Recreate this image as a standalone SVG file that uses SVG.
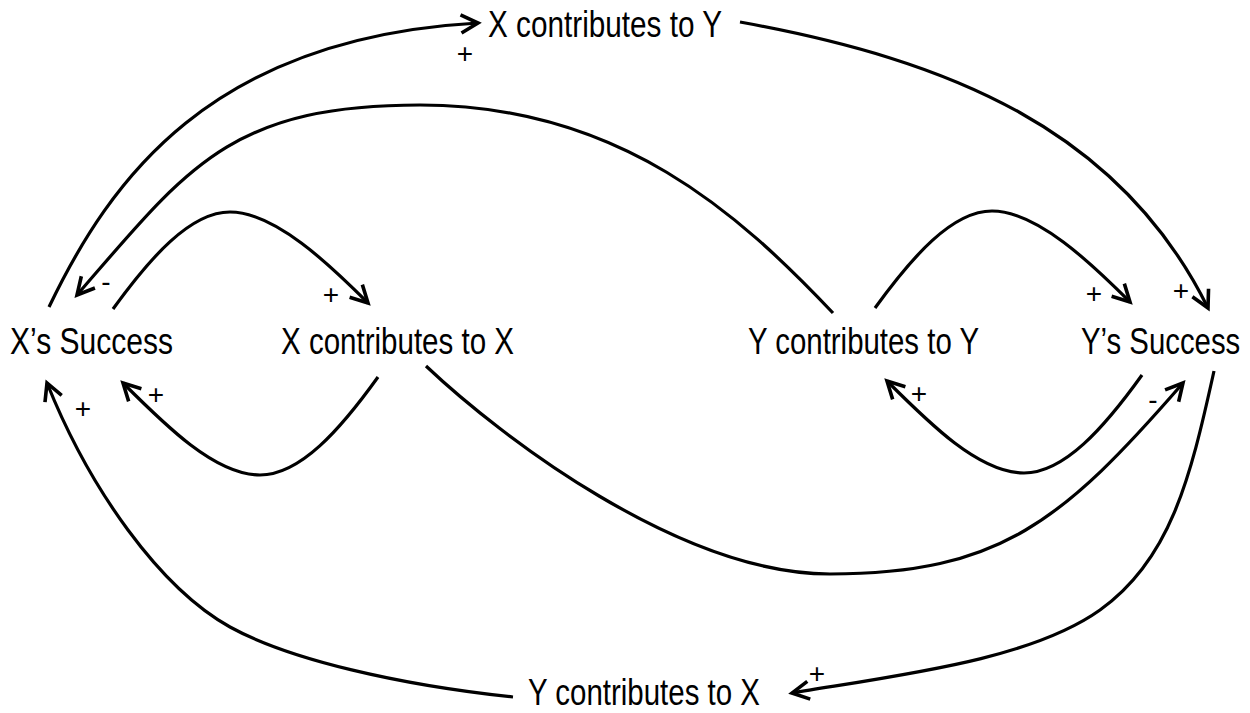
<svg xmlns="http://www.w3.org/2000/svg" width="1250" height="713" viewBox="0 0 1250 713">
<style>
.lbl{font-family:"Liberation Sans Narrow","Arial Narrow","Liberation Sans",Arial,sans-serif;font-size:36px;fill:#000}
.sign{font-family:"Liberation Sans","Arial",sans-serif;font-size:28px;fill:#000;text-anchor:middle}
.edge{fill:none;stroke:#000;stroke-width:3.2;marker-end:url(#arr)}
</style>
<defs>
<marker id="arr" markerUnits="userSpaceOnUse" viewBox="-20 -12 24 24" refX="0" refY="0" markerWidth="24" markerHeight="24" orient="auto" overflow="visible">
<path d="M-17,-9 L0,0 L-17,9" fill="none" stroke="#000" stroke-width="3.6" stroke-linejoin="miter" stroke-linecap="butt"/>
</marker>
</defs>
<rect width="1250" height="713" fill="#fff"/>
<g id="connectors">
<path id="e1" class="edge" d="M49,307 C110,180 210,38 478,23"/>
<path id="e2" class="edge" d="M740,22 C950,60 1120,130 1208,308"/>
<path id="e3" class="edge" d="M833,313 C740,215 620,105 420,105 C230,105 187,168 77,295"/>
<path id="e4" class="edge" d="M113,309 C150,258 190,212 230,212 C275,212 330,265 368,303"/>
<path id="e5" class="edge" d="M378,377 C340,430 300,475 260,475 C215,475 165,425 123,383"/>
<path id="e7" class="edge" d="M875,308 C912,257 952,211 992,211 C1037,211 1092,264 1130,302"/>
<path id="e8" class="edge" d="M1142,375 C1104,428 1064,473 1024,473 C979,473 929,423 887,381"/>
<path id="e6" class="edge" d="M426,366 C500,436 680,574 830,574 C1000,574 1063,521 1183,383"/>
<path id="e9" class="edge" d="M1214,371 C1190,480 1170,560 1100,610 C1030,660 900,675 792,693"/>
<path id="e10" class="edge" d="M513,697 C400,685 290,660 230,627 C160,588 90,490 47,383"/>
</g>
<g id="signs">
<text class="sign" x="465" y="63">+</text>
<text class="sign" x="106" y="291">-</text>
<text class="sign" x="331" y="304">+</text>
<text class="sign" x="1094" y="303">+</text>
<text class="sign" x="1181" y="300">+</text>
<text class="sign" x="83" y="418">+</text>
<text class="sign" x="156" y="404">+</text>
<text class="sign" x="919" y="403">+</text>
<text class="sign" x="1153" y="409">-</text>
<text class="sign" x="817" y="683">+</text>
</g>
<g id="n-xsuccess"><text class="lbl" x="10" y="354" textLength="163" lengthAdjust="spacingAndGlyphs">X’s Success</text></g>
<g id="n-xcx"><text class="lbl" x="281" y="354" textLength="233" lengthAdjust="spacingAndGlyphs">X contributes to X</text></g>
<g id="n-ycy"><text class="lbl" x="748" y="354" textLength="231" lengthAdjust="spacingAndGlyphs">Y contributes to Y</text></g>
<g id="n-ysuccess"><text class="lbl" transform="translate(1081,354) scale(0.815,1)" x="0" y="0">Y’s Success</text></g>
<g id="n-xcy"><text class="lbl" x="488" y="37" textLength="234" lengthAdjust="spacingAndGlyphs">X contributes to Y</text></g>
<g id="n-ycx"><text class="lbl" x="528" y="705" textLength="232" lengthAdjust="spacingAndGlyphs">Y contributes to X</text></g>
</svg>
